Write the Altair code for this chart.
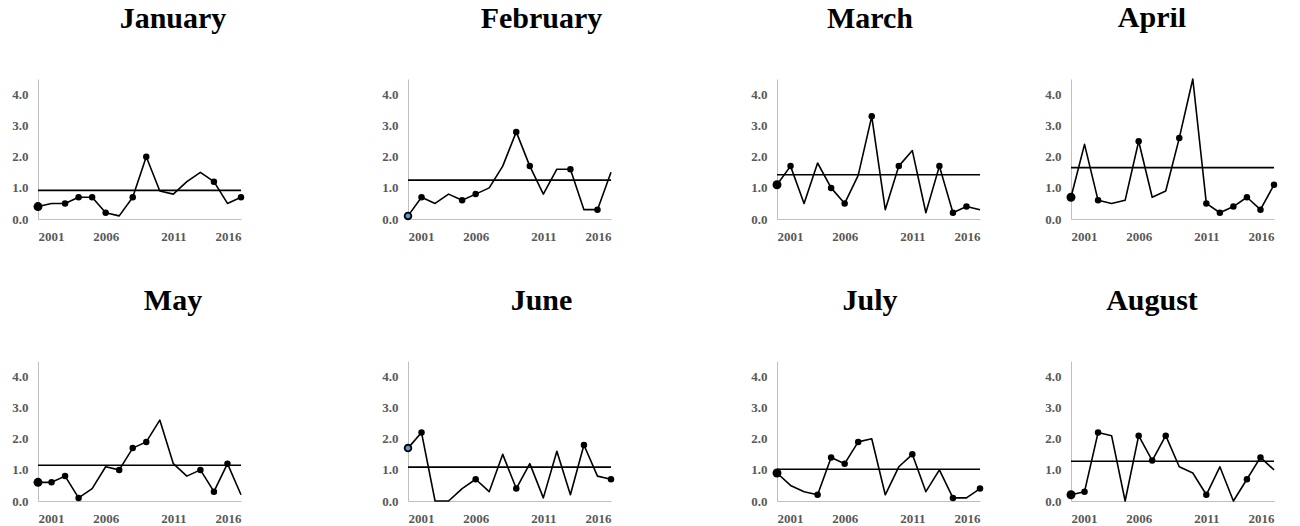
import altair as alt
import pandas as pd

months = ["January", "February", "March", "April", "May", "June", "July", "August"]
years = list(range(2001, 2017))

jan = [0.4, 0.5, 0.5, 0.7, 0.7, 0.2, 0.1, 0.7, 2.0, 0.9, 0.8, 1.2, 1.5, 1.2, 0.5, 0.7]
feb = [0.1, 0.7, 0.5, 0.8, 0.6, 0.8, 1.0, 1.7, 2.8, 1.7, 0.8, 1.6, 1.6, 0.3, 0.3, 1.5]
mar = [1.1, 1.7, 0.5, 1.8, 1.0, 0.5, 1.4, 3.3, 0.3, 1.7, 2.2, 0.2, 1.7, 0.2, 0.4, 0.3]
apr = [0.7, 2.4, 0.6, 0.5, 0.6, 2.5, 0.7, 0.9, 2.6, 4.5, 0.5, 0.2, 0.4, 0.7, 0.3, 1.1]
may = [0.6, 0.6, 0.8, 0.1, 0.4, 1.1, 1.0, 1.7, 1.9, 2.6, 1.2, 0.8, 1.0, 0.3, 1.2, 0.2]
jun = [1.7, 2.2, 0.0, 0.0, 0.4, 0.7, 0.3, 1.5, 0.4, 1.2, 0.1, 1.6, 0.2, 1.8, 0.8, 0.7]
jul = [0.9, 0.5, 0.3, 0.2, 1.4, 1.2, 1.9, 2.0, 0.2, 1.1, 1.5, 0.3, 1.0, 0.1, 0.1, 0.4]
aug = [0.2, 0.3, 2.2, 2.1, 0.0, 2.1, 1.3, 2.1, 1.1, 0.9, 0.2, 1.1, 0.0, 0.7, 1.4, 1.0]
series = [jan, feb, mar, apr, may, jun, jul, aug]

# years marked with a dot (the first year is drawn separately)
dots = [
    [2003, 2004, 2005, 2006, 2008, 2009, 2014, 2016],
    [2002, 2005, 2006, 2009, 2010, 2013, 2015],
    [2002, 2005, 2006, 2008, 2010, 2013, 2014, 2015],
    [2003, 2006, 2009, 2011, 2012, 2013, 2014, 2015, 2016],
    [2002, 2003, 2004, 2007, 2008, 2009, 2013, 2014, 2015],
    [2002, 2006, 2009, 2014, 2016],
    [2004, 2005, 2006, 2007, 2011, 2014, 2016],
    [2002, 2003, 2006, 2007, 2008, 2011, 2014, 2015],
]
first_blue = [False, True, False, False, False, True, False, False]
means = [0.92, 1.25, 1.42, 1.65, 1.15, 1.09, 1.02, 1.28]

x_ticks = [2001, 2006, 2011, 2016]
y_ticks = [0, 1, 2, 3, 4]

FONT = "Liberation Serif"
widths = [279, 278, 203, 203]
title_dx = [-4.5, -5.5, -8.5, -20.5]

x_axis = alt.Axis(values=x_ticks, format="d", title=None, grid=False, ticks=False,
                  labelPadding=11, domainColor="#bfbfbf", domainWidth=1,
                  labelOverlap=False, labelFont=FONT, labelFontSize=13,
                  labelFontWeight="bold", labelColor="#595959")
y_axis = alt.Axis(values=y_ticks, format=".1f", title=None, grid=False, ticks=False,
                  labelPadding=10, domainColor="#bfbfbf", domainWidth=1,
                  labelOverlap=False, labelFont=FONT, labelFontSize=13,
                  labelFontWeight="bold", labelColor="#595959")
x_scale = alt.Scale(domain=[2001, 2016], range=[0, 203], nice=False, zero=False)
y_scale = alt.Scale(domain=[0, 4.5], nice=False)


def panel(i, col):
    df = pd.DataFrame({"year": years, "value": series[i]})
    xenc = alt.X("year:Q", scale=x_scale, axis=x_axis)
    yenc = alt.Y("value:Q", scale=y_scale, axis=y_axis)

    line = alt.Chart(df).mark_line(color="black", strokeWidth=1.6,
                                   strokeJoin="round").encode(x=xenc, y=yenc)

    dot_df = df[df["year"].isin(dots[i])]
    pts = alt.Chart(dot_df).mark_circle(color="black", size=42, opacity=1).encode(
        x=xenc, y=yenc)

    first_df = df[df["year"] == 2001]
    if first_blue[i]:
        first = alt.Chart(first_df).mark_point(
            filled=True, fill="#5b9bd5", stroke="black", strokeWidth=1.8,
            size=45, opacity=1, shape="circle").encode(x=xenc, y=yenc)
    else:
        first = alt.Chart(first_df).mark_circle(color="black", size=80, opacity=1).encode(
            x=xenc, y=yenc)

    mean_df = pd.DataFrame({"year": [2001], "year2": [2016], "value": [means[i]]})
    rule = alt.Chart(mean_df).mark_rule(color="black", strokeWidth=1.6).encode(
        x=xenc, x2="year2:Q", y=yenc)

    return alt.layer(line, rule, pts, first).properties(
        width=widths[col],
        height=140,
        title=alt.TitleParams(
            months[i], font=FONT, fontSize=30, fontWeight="bold", color="black",
            frame="group", anchor="middle", dx=title_dx[col], offset=21,
            baseline="alphabetic"),
    )


panels = [panel(i, i % 4) for i in range(8)]

chart = alt.concat(
    *panels, columns=4, spacing={"row": 142, "column": 91}, bounds="flush"
).properties(
    padding={"left": 3, "top": -5, "right": 0, "bottom": 0}
).configure(background="white").configure_view(strokeWidth=0).configure_axis(
    labelOverlap=False)

chart.save("out.html", embed_options={"renderer": "svg", "actions": False})
